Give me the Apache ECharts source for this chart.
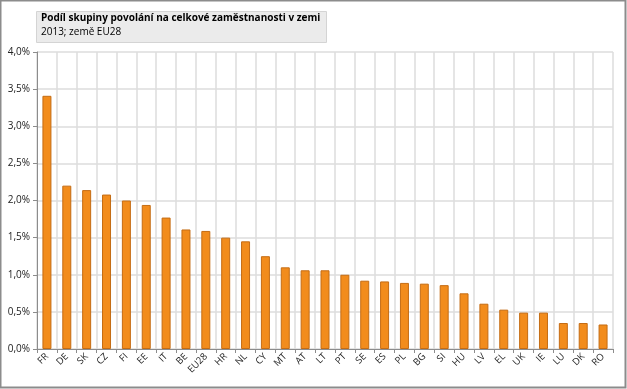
<!DOCTYPE html>
<html><head><meta charset="utf-8">
<script src="https://cdn.jsdelivr.net/npm/echarts@6/dist/echarts.min.js"></script>
<style>html,body{margin:0;padding:0;background:#fff}#c{width:627px;height:389px}</style>
</head><body><div id="c"></div>
<script>
var categories = ['FR','DE','SK','CZ','FI','EE','IT','BE','EU28','HR','NL','CY','MT','AT','LT','PT','SE','ES','PL','BG','SI','HU','LV','EL','UK','IE','LU','DK','RO'];
var values = [3.41,2.20,2.14,2.08,2.00,1.94,1.77,1.61,1.59,1.50,1.45,1.25,1.10,1.06,1.06,1.00,0.92,0.91,0.89,0.88,0.86,0.75,0.61,0.53,0.49,0.49,0.35,0.35,0.33];
var titleLine1 = 'Podíl skupiny povolání na celkové zaměstnanosti v zemi';
var titleLine2 = '2013; země EU28';
var FONT = '"Open Sans", "Noto Sans", sans-serif';
var chart = echarts.init(document.getElementById('c'), null, {renderer:'canvas'});
chart.setOption({
  animation:false,
  backgroundColor:'#fff',
  graphic:[
    {type:'rect', shape:{x:0.5,y:0.5,width:625,height:387}, style:{fill:'none',stroke:'#8c8c8c',lineWidth:2}, z:-1},
    {type:'rect', shape:{x:36.5,y:11.5,width:290,height:31}, style:{fill:'#ebebeb',stroke:'#d4d4d4',lineWidth:1}, z:0},
    {type:'text', left:41, top:13, style:{text:titleLine1, font:'bold 10px '+FONT, fill:'#000'}, z:1},
    {type:'text', left:41, top:27, style:{text:titleLine2, font:'10px '+FONT, fill:'#000'}, z:1}
  ],
  grid:{left:37, right:14, top:52, bottom:40, containLabel:false},
  xAxis:{
    type:'category', data:categories, boundaryGap:true,
    axisLine:{lineStyle:{color:'#8c8c8c',width:1}},
    axisTick:{show:true, length:4, alignWithLabel:false, lineStyle:{color:'#8c8c8c'}},
    splitLine:{show:true, lineStyle:{color:'#dcdcdc', width:1.5}},
    axisLabel:{rotate:45, interval:0, fontSize:9.5, fontFamily:FONT, color:'#222', margin:6}
  },
  yAxis:{
    type:'value', min:0, max:4, interval:0.5,
    axisLine:{show:true, lineStyle:{color:'#8c8c8c'}},
    axisTick:{show:true, length:4, lineStyle:{color:'#8c8c8c'}},
    splitLine:{show:true, lineStyle:{color:'#dcdcdc', width:1.5}},
    axisLabel:{fontSize:10, fontFamily:FONT, color:'#222', margin:7,
      formatter:function(v){return v.toFixed(1).replace('.',',')+'%';}}
  },
  series:[{
    type:'bar', data:values, barWidth:9,
    itemStyle:{color:'#f28c1c', borderColor:'#c46c14', borderWidth:1}
  }]
});
</script></body></html>
